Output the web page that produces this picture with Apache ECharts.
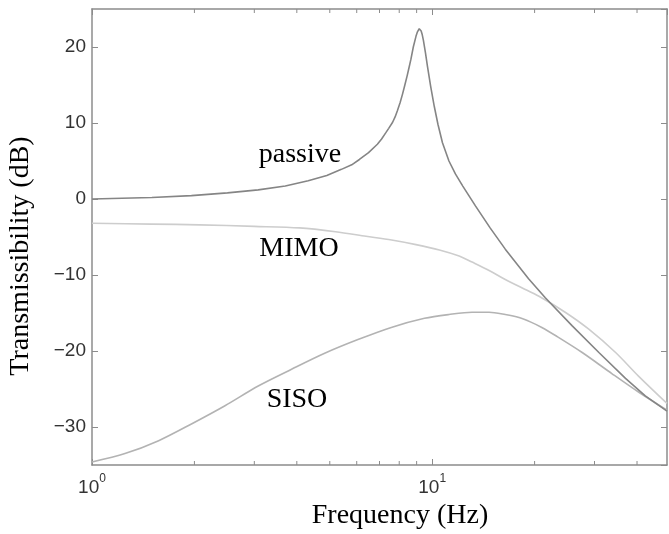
<!DOCTYPE html>
<html>
<head>
<meta charset="utf-8">
<script src="https://cdn.jsdelivr.net/npm/echarts@6/dist/echarts.min.js"></script>
<style>
html, body { margin: 0; padding: 0; background: #fff; }
#myChart { width: 669px; height: 534px; }
</style>
</head>
<body>
<div id="myChart"></div>
<script>
// curves: frequency (Hz) / transmissibility (dB)
var passiveFreq = [1, 1.5, 1.96, 2.5, 3.08, 3.7, 4.32, 4.9, 5.41, 5.8, 6.11, 6.5, 6.9, 7.1, 7.3, 7.45, 7.65, 7.78, 7.9, 8.05, 8.18, 8.3, 8.45, 8.55, 8.66, 8.8, 8.96, 9.05, 9.16, 9.28, 9.35, 9.42, 9.55, 9.69, 9.9, 10.14, 10.4, 10.72, 11.2, 11.7, 12.3, 13.4, 14.8, 16.4, 19.2, 21.5, 25.8, 30.9, 37.0, 42.3, 49];
var passiveDb   = [0.0, 0.2, 0.45, 0.8, 1.2, 1.7, 2.4, 3.1, 3.9, 4.5, 5.2, 6.1, 7.2, 7.9, 8.7, 9.3, 10.1, 10.8, 11.6, 12.7, 13.8, 14.9, 16.3, 17.3, 18.4, 20.0, 21.4, 22.0, 22.4, 22.1, 21.6, 20.9, 19.3, 17.4, 14.8, 12.2, 9.8, 7.4, 5.0, 3.3, 1.7, -0.9, -3.8, -6.6, -10.5, -13.0, -16.7, -20.2, -23.6, -25.9, -27.9];

var mimoFreq = [1, 1.5, 2.07, 3.0, 4.07, 5.2, 6.39, 7.6, 8.96, 10.5, 12.0, 13.1, 14.7, 16.4, 18.4, 20.6, 24.6, 28.8, 34.6, 40.4, 49];
var mimoDb   = [-3.2, -3.3, -3.4, -3.6, -3.8, -4.3, -4.9, -5.4, -6.0, -6.7, -7.5, -8.3, -9.4, -10.6, -11.7, -12.8, -14.9, -17.1, -20.2, -23.3, -26.9];

var sisoFreq = [1, 1.25, 1.57, 1.96, 2.46, 3.08, 3.86, 4.83, 6.05, 7.58, 9.49, 11.2, 13.1, 14.7, 16.4, 18.0, 19.5, 21.0, 23.1, 27.6, 33.8, 40.4, 49];
var sisoDb   = [-34.6, -33.5, -31.8, -29.6, -27.2, -24.6, -22.4, -20.3, -18.5, -16.9, -15.7, -15.2, -14.9, -14.9, -15.2, -15.6, -16.2, -16.9, -18.0, -20.2, -23.0, -25.4, -27.8];

var minorTicks = [2, 3, 4, 5, 6, 7, 8, 9, 20, 30, 40];
var yMin = -35, yMax = 25;
var xMin = 1, xMax = 49;

function zip(xs, ys) {
  return xs.map(function (x, i) { return [x, ys[i]]; });
}

var axisGray = '#8c8c8c';
var labelFont = 'Liberation Sans, Arial, sans-serif';
var serif = 'Liberation Serif, Times New Roman, serif';

var myChart = echarts.init(document.getElementById('myChart'));
myChart.setOption({
  animation: false,
  backgroundColor: '#fff',
  grid: { left: 92, top: 9, right: 2, bottom: 69, containLabel: false, outerBoundsMode: 'none' },
  xAxis: [
    {
      type: 'log', logBase: 10, min: xMin, max: xMax,
      axisLine: { onZero: false, lineStyle: { color: axisGray, width: 1.5 } },
      axisTick: { inside: true, length: 6, lineStyle: { color: axisGray } },
      splitLine: { show: false },
      axisLabel: {
        margin: 8, showMaxLabel: false,
        formatter: function (v) {
          return '{b|10}{s|' + Math.round(Math.log10(v)) + '}';
        },
        rich: {
          b: { fontSize: 19, fontFamily: labelFont, color: '#333', lineHeight: 24, verticalAlign: 'bottom' },
          s: { fontSize: 12, fontFamily: labelFont, color: '#333', lineHeight: 12, verticalAlign: 'top' }
        }
      }
    },
    {
      type: 'log', logBase: 10, min: xMin, max: xMax, position: 'top',
      axisLine: { onZero: false, lineStyle: { color: axisGray, width: 1.5 } },
      axisTick: { inside: true, length: 6, lineStyle: { color: axisGray } },
      axisLabel: { show: false },
      splitLine: { show: false }
    }
  ],
  yAxis: [
    {
      type: 'value', min: yMin, max: yMax,
      axisLine: { show: true, onZero: false, lineStyle: { color: axisGray, width: 1.5 } },
      axisTick: { show: true, inside: true, length: 6, lineStyle: { color: axisGray } },
      splitLine: { show: false },
      axisLabel: {
        margin: 6, showMinLabel: false, showMaxLabel: false,
        fontSize: 19, fontFamily: labelFont, color: '#333',
        formatter: function (v) { return String(v).replace('-', '\u2212'); }
      }
    },
    {
      type: 'value', min: yMin, max: yMax, position: 'right',
      axisLine: { show: true, onZero: false, lineStyle: { color: axisGray, width: 1.5 } },
      axisTick: { show: true, inside: true, length: 6, lineStyle: { color: axisGray } },
      axisLabel: { show: false },
      splitLine: { show: false }
    }
  ],
  series: [
    {
      name: 'MIMO', type: 'line', data: zip(mimoFreq, mimoDb),
      showSymbol: false, smooth: 0.3,
      lineStyle: { color: '#cdcdcd', width: 1.6 }
    },
    {
      name: 'SISO', type: 'line', data: zip(sisoFreq, sisoDb),
      showSymbol: false, smooth: 0.3,
      lineStyle: { color: '#b3b3b3', width: 1.6 }
    },
    {
      name: 'passive', type: 'line', data: zip(passiveFreq, passiveDb),
      showSymbol: false, smooth: false,
      lineStyle: { color: '#858585', width: 1.6 }
    },
    {
      // minor ticks of the log axis, bottom and top
      type: 'custom',
      data: minorTicks.map(function (f) { return [f, yMin]; }),
      silent: true,
      clip: false,
      renderItem: function (params, api) {
        var b = api.coord([api.value(0), yMin]);
        var t = api.coord([api.value(0), yMax]);
        var st = { stroke: axisGray, lineWidth: 1 };
        return {
          type: 'group',
          children: [
            { type: 'line', shape: { x1: b[0], y1: b[1], x2: b[0], y2: b[1] - 4 }, style: st },
            { type: 'line', shape: { x1: t[0], y1: t[1], x2: t[0], y2: t[1] + 4 }, style: st }
          ]
        };
      }
    }
  ],
  graphic: [
    {
      type: 'text', x: 21, y: 256, rotation: Math.PI / 2,
      style: { text: 'Transmissibility (dB)', font: '28px ' + serif, fill: '#000', align: 'center', verticalAlign: 'middle' }
    },
    {
      type: 'text', x: 400, y: 516,
      style: { text: 'Frequency (Hz)', font: '28px ' + serif, fill: '#000', align: 'center', verticalAlign: 'middle' }
    },
    {
      type: 'text', x: 300, y: 155,
      style: { text: 'passive', font: '28px ' + serif, fill: '#000', align: 'center', verticalAlign: 'middle' }
    },
    {
      type: 'text', x: 299, y: 249,
      style: { text: 'MIMO', font: '28px ' + serif, fill: '#000', align: 'center', verticalAlign: 'middle' }
    },
    {
      type: 'text', x: 297, y: 400,
      style: { text: 'SISO', font: '28px ' + serif, fill: '#000', align: 'center', verticalAlign: 'middle' }
    }
  ]
});
</script>
</body>
</html>
